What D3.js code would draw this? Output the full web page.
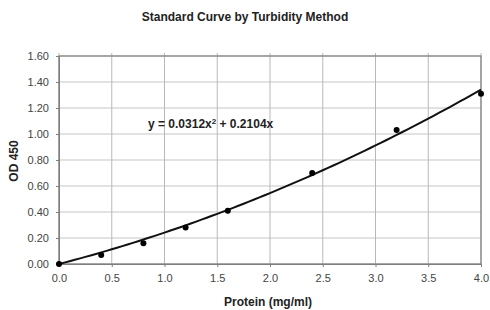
<!DOCTYPE html>
<html>
<head>
<meta charset="utf-8">
<script src="https://cdn.jsdelivr.net/npm/d3@7"></script>
<style>
  body { margin: 0; background: #fff; }
  text { font-family: "Liberation Sans", Arial, sans-serif; }
</style>
</head>
<body>
<div id="container"></div>
<script>
/* CONSTANTS AND GLOBALS */
const width = 490,
  height = 310,
  plotLeft = 59,
  plotRight = 481,
  plotTop = 56,
  plotBottom = 264;

/* DATA */
const protein = [0, 0.4, 0.8, 1.2, 1.6, 2.4, 3.2, 4.0];
const od450 = [0, 0.07, 0.16, 0.28, 0.41, 0.70, 1.03, 1.31];
const xTicks = [0, 0.5, 1, 1.5, 2, 2.5, 3, 3.5, 4];
const yTicks = [0, 0.2, 0.4, 0.6, 0.8, 1.0, 1.2, 1.4, 1.6];
// trendline coefficients shown on the chart: y = a*x^2 + b*x
const trendCoef = [0.0312, 0.2104];

const svg = d3.select("#container")
  .append("svg")
  .attr("width", width)
  .attr("height", height);

/* SCALES */
const xScale = d3.scaleLinear().domain([0, 4]).range([plotLeft, plotRight]);
const yScale = d3.scaleLinear().domain([0, 1.6]).range([plotBottom, plotTop]);

/* GRID */
svg.append("g")
  .selectAll("line")
  .data(yTicks)
  .join("line")
  .attr("x1", plotLeft).attr("x2", plotRight)
  .attr("y1", d => yScale(d)).attr("y2", d => yScale(d))
  .attr("stroke", "#d9d9d9")
  .attr("stroke-width", 1.5);

svg.append("g")
  .selectAll("line")
  .data(xTicks)
  .join("line")
  .attr("x1", d => xScale(d)).attr("x2", d => xScale(d))
  .attr("y1", plotTop - 3).attr("y2", plotBottom)
  .attr("stroke", "#b8b8b8")
  .attr("stroke-width", 1);

// plot frame
svg.append("rect")
  .attr("x", plotLeft).attr("y", plotTop)
  .attr("width", plotRight - plotLeft).attr("height", plotBottom - plotTop)
  .attr("fill", "none")
  .attr("stroke", "#7f7f7f")
  .attr("stroke-width", 1.2);

/* AXES */
svg.append("g")
  .attr("transform", `translate(0,${plotBottom})`)
  .call(d3.axisBottom(xScale).tickValues(xTicks).tickFormat(d3.format(".1f")).tickSize(3))
  .call(g => g.select(".domain").attr("stroke", "#7f7f7f"))
  .call(g => g.selectAll(".tick line").attr("stroke", "#7f7f7f"))
  .call(g => g.selectAll("text").attr("fill", "#444").style("font-size", "11px").attr("y", 8).attr("dy", "0.95em"));

svg.append("g")
  .attr("transform", `translate(${plotLeft},0)`)
  .call(d3.axisLeft(yScale).tickValues(yTicks).tickFormat(d3.format(".2f")).tickSize(3))
  .call(g => g.select(".domain").attr("stroke", "#7f7f7f"))
  .call(g => g.selectAll(".tick line").attr("stroke", "#7f7f7f"))
  .call(g => g.selectAll("text").attr("fill", "#444").style("font-size", "11px").attr("x", -10));

/* TRENDLINE */
const curveX = d3.range(0, 4.0001, 0.05);
const line = d3.line()
  .x(d => xScale(d))
  .y(d => yScale(trendCoef[0] * d * d + trendCoef[1] * d));

svg.append("path")
  .datum(curveX)
  .attr("d", line)
  .attr("fill", "none")
  .attr("stroke", "#111")
  .attr("stroke-width", 2);

/* POINTS */
svg.selectAll(".point")
  .data(protein)
  .join("circle")
  .attr("class", "point")
  .attr("cx", d => xScale(d))
  .attr("cy", (d, i) => yScale(od450[i]))
  .attr("r", 3)
  .attr("fill", "#000");

/* TEXT */
svg.append("text")
  .attr("x", 245).attr("y", 21)
  .attr("text-anchor", "middle")
  .style("font-size", "12px").style("font-weight", "bold")
  .attr("fill", "#222")
  .text("Standard Curve by Turbidity Method");

svg.append("text")
  .attr("x", 268).attr("y", 306)
  .attr("text-anchor", "middle")
  .style("font-size", "12px").style("font-weight", "bold")
  .attr("fill", "#222")
  .text("Protein (mg/ml)");

svg.append("text")
  .attr("transform", `translate(18,161) rotate(-90)`)
  .attr("text-anchor", "middle")
  .style("font-size", "12px").style("font-weight", "bold")
  .attr("fill", "#222")
  .text("OD 450");

const eq = svg.append("text")
  .attr("x", 148).attr("y", 128)
  .style("font-size", "12px").style("font-weight", "bold")
  .attr("fill", "#222");
eq.append("tspan").text(`y = ${trendCoef[0]}x`);
eq.append("tspan").attr("dy", -4).style("font-size", "8px").text("2");
eq.append("tspan").attr("dy", 4).text(` + ${trendCoef[1]}x`);
</script>
</body>
</html>
